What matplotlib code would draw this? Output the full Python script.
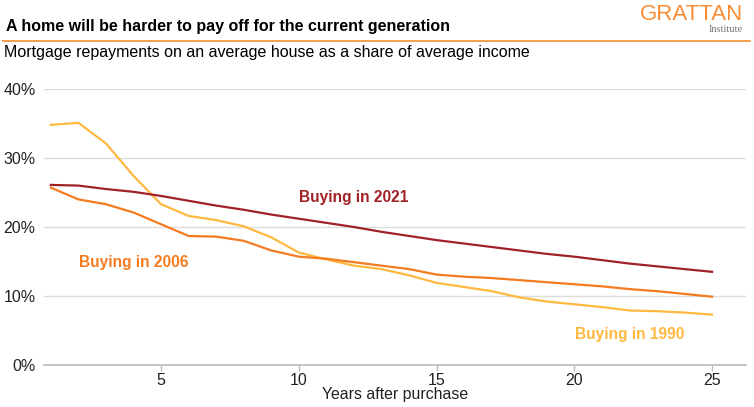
"""
Mortgage repayments as a share of income, by year of purchase
Grattan-style line chart
"""

import matplotlib
matplotlib.use('Agg')
import matplotlib.pyplot as plt
from matplotlib.lines import Line2D
from matplotlib.ticker import FuncFormatter

# ========================================
# DATA
# ========================================

years = list(range(1, 26))

buying_2021 = [26.1, 26.0, 25.5, 25.1, 24.5, 23.8, 23.1, 22.5, 21.8, 21.2,
               20.6, 20.0, 19.3, 18.7, 18.1, 17.6, 17.1, 16.6, 16.1, 15.7,
               15.2, 14.7, 14.3, 13.9, 13.5]

buying_2006 = [25.7, 24.0, 23.3, 22.1, 20.4, 18.7, 18.6, 18.0, 16.6, 15.7,
               15.4, 14.9, 14.4, 13.9, 13.1, 12.8, 12.6, 12.3, 12.0, 11.7,
               11.4, 11.0, 10.7, 10.3, 9.9]

buying_1990 = [34.8, 35.1, 32.1, 27.4, 23.3, 21.6, 21.0, 20.1, 18.5, 16.3,
               15.3, 14.4, 13.9, 13.0, 11.9, 11.3, 10.7, 9.8, 9.2, 8.8,
               8.4, 7.9, 7.8, 7.6, 7.3]

x_ticks = [5, 10, 15, 20, 25]
y_ticks = [0, 10, 20, 30, 40]

# ========================================
# STYLE
# ========================================

plt.rcParams['font.family'] = ['Liberation Sans', 'DejaVu Sans']

RED = '#A02226'
ORANGE = '#F47B20'
YELLOW = '#FFB840'
TEXT = '#222222'
GRID = '#DCDCDC'

# ========================================
# PLOT
# ========================================

fig = plt.figure(figsize=(7.54, 4.07), dpi=100)
W, H = 754, 407

# axes placed in pixel terms
ax = fig.add_axes([44 / W, (H - 365) / H, (746 - 44) / W, (365 - 89) / H])

ax.plot(years, buying_1990, color=YELLOW, linewidth=1.6)
ax.plot(years, buying_2006, color=ORANGE, linewidth=1.6)
ax.plot(years, buying_2021, color=RED, linewidth=1.6)

ax.set_xlim(0.75, 26.23)
ax.set_ylim(0, 40)
ax.set_xticks(x_ticks)
ax.set_yticks(y_ticks)
ax.yaxis.set_major_formatter(FuncFormatter(lambda v, p: f'{v:.0f}%'))

ax.grid(axis='y', color=GRID, linewidth=1)
ax.set_axisbelow(True)
for side in ['top', 'right', 'left']:
    ax.spines[side].set_visible(False)
ax.spines['bottom'].set_color('#BBBBBB')
ax.spines['bottom'].set_linewidth(1.2)

ax.tick_params(axis='y', length=0, pad=6, labelsize=11.5, labelcolor=TEXT)
ax.tick_params(axis='x', length=4, width=1, color='#BBBBBB', pad=2,
               labelsize=11.5, labelcolor=TEXT)

ax.set_xlabel('Years after purchase', fontsize=11.4, color=TEXT, labelpad=-1)

# series labels
ax.text(12.0, 24.25, 'Buying in 2021', color=RED, fontsize=11.2,
        fontweight='bold', ha='center', va='center')
ax.text(4.0, 14.8, 'Buying in 2006', color=ORANGE, fontsize=11.2,
        fontweight='bold', ha='center', va='center')
ax.text(22.0, 4.35, 'Buying in 1990', color=YELLOW, fontsize=11.2,
        fontweight='bold', ha='center', va='center')

# ========================================
# TITLE BLOCK
# ========================================

fig.text(6 / W, 1 - 27 / H, 'A home will be harder to pay off for the current generation',
         fontsize=11.5, fontweight='bold', color='black', va='center')
fig.text(4 / W, 1 - 52 / H, 'Mortgage repayments on an average house as a share of average income',
         fontsize=11.5, color='black', va='center')

fig.add_artist(Line2D([3 / W, 750 / W], [1 - 41 / H, 1 - 41 / H],
                      color='#F68B33', linewidth=1.2, transform=fig.transFigure))

# logo
fig.text(743 / W, 1 - 15 / H, 'GRATTAN', fontsize=16, color='#F68B33',
         ha='right', va='center')
fig.text(743 / W, 1 - 30 / H, 'Institute', fontsize=7.5, color='#777777',
         ha='right', va='center', family='Liberation Serif')

fig.savefig('out.png', dpi=100)
